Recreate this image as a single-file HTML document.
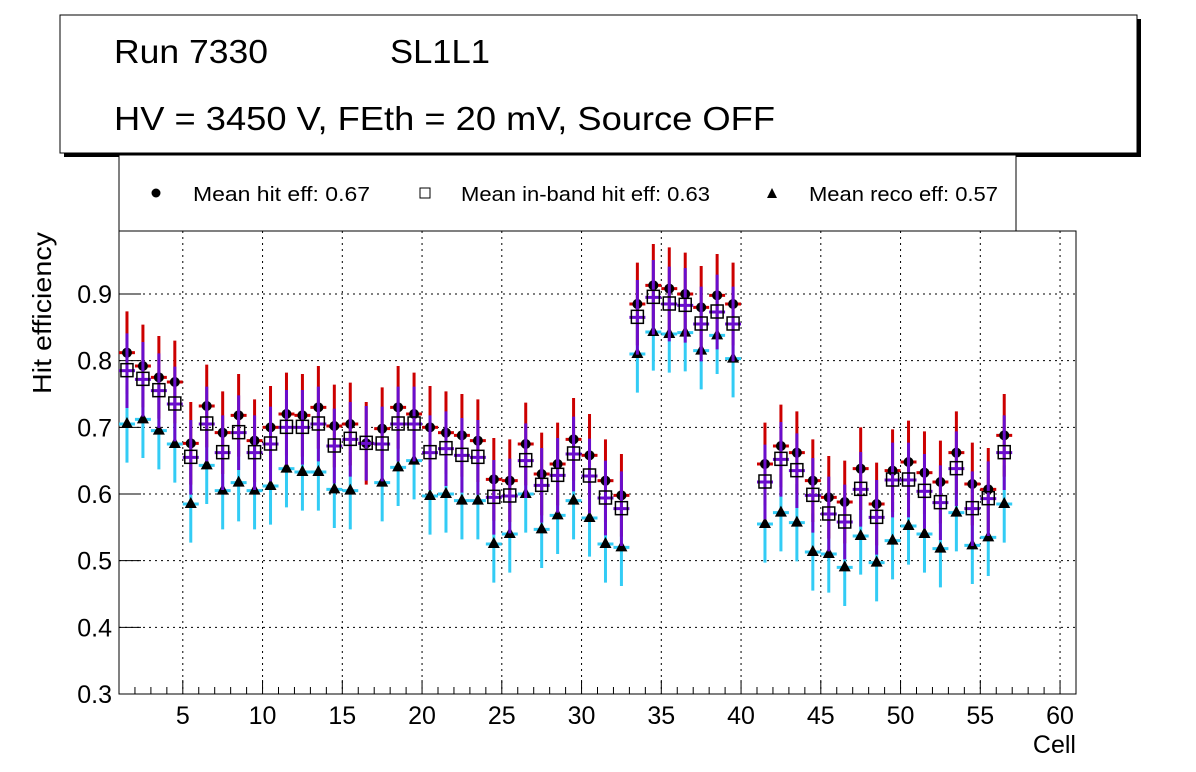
<!DOCTYPE html>
<html><head><meta charset="utf-8"><style>
body{margin:0;background:#fff;font-family:"Liberation Sans",sans-serif}
svg{display:block}
</style></head><body>
<svg id="c" width="1196" height="772" xmlns="http://www.w3.org/2000/svg" font-family="Liberation Sans, sans-serif">
<g>
<rect x="64" y="19" width="1077" height="138" fill="#000"/>
<rect x="60" y="15" width="1077" height="138" fill="#fff" stroke="#000" stroke-width="1"/>
<text x="114" y="63" font-size="33" textLength="154" lengthAdjust="spacingAndGlyphs">Run 7330</text>
<text x="390" y="63" font-size="33" textLength="100" lengthAdjust="spacingAndGlyphs">SL1L1</text>
<text x="114" y="130" font-size="33" textLength="661" lengthAdjust="spacingAndGlyphs">HV = 3450 V, FEth = 20 mV, Source OFF</text>
</g>
<g>
<rect x="119" y="155" width="897" height="76" fill="#fff" stroke="#000"/>
<g><circle cx="156" cy="193" r="4.5" fill="#000"/><text x="193" y="201" font-size="20" textLength="177" lengthAdjust="spacingAndGlyphs">Mean hit  eff: 0.67</text></g>
<g><rect x="420" y="188" width="10" height="10" fill="#fff" stroke="#000"/><text x="461" y="201" font-size="20" textLength="249" lengthAdjust="spacingAndGlyphs">Mean in-band hit eff: 0.63</text></g>
<g><polygon points="772,188 777,198 767,198" fill="#000"/><text x="809" y="201" font-size="20" textLength="189" lengthAdjust="spacingAndGlyphs">Mean reco eff: 0.57</text></g>
</g>
<g id="plot"></g>
</svg>
<script>
const cells=[];for(let i=1;i<=56;i++)cells.push(i);
const hitEff=[0.812,0.792,0.775,0.768,0.676,0.732,0.692,0.718,0.68,0.70,0.72,0.718,0.73,0.702,0.705,0.676,0.698,0.73,0.72,0.70,0.692,0.688,0.68,0.622,0.62,0.675,0.63,0.645,0.682,0.658,0.62,0.598,0.885,0.913,0.908,0.90,0.88,0.898,0.885,null,0.645,0.672,0.662,0.62,0.595,0.588,0.638,0.585,0.635,0.648,0.632,0.618,0.662,0.615,0.607,0.688];
const inbandEff=[0.785,0.772,0.755,0.735,0.655,0.705,0.662,0.692,0.662,0.675,0.70,0.70,0.705,0.672,0.682,0.676,0.675,0.705,0.705,0.662,0.668,0.658,0.655,0.595,0.597,0.65,0.613,0.628,0.66,0.627,0.594,0.578,0.865,0.895,0.885,0.883,0.855,0.873,0.855,null,0.618,0.652,0.635,0.598,0.57,0.558,0.607,0.565,0.621,0.621,0.604,0.587,0.638,0.578,0.593,0.662];
const recoEff=[0.705,0.712,0.695,0.675,0.585,0.643,0.605,0.617,0.605,0.612,0.638,0.633,0.633,0.607,0.605,null,0.617,0.64,0.65,0.597,0.60,0.59,0.59,0.525,0.54,0.60,0.547,0.568,0.59,0.564,0.525,0.52,0.81,0.843,0.84,0.842,0.815,0.838,0.803,null,0.555,0.572,0.557,0.513,0.51,0.49,0.537,0.497,0.53,0.552,0.54,0.518,0.572,0.523,0.535,0.585];
const hitErr=0.062, inbandErr=0.056, recoErr=0.058;
const yTicks=[0.3,0.4,0.5,0.6,0.7,0.8,0.9];
const xTicks=[5,10,15,20,25,30,35,40,45,50,55,60];
const X0=119,X1=1076,Y0=694,Y1=231,xmin=1,xmax=61,ymin=0.3,ymax=0.9945;
const sx=v=>X0+(v-xmin)/(xmax-xmin)*(X1-X0);
const sy=v=>Y0-(v-ymin)/(ymax-ymin)*(Y0-Y1);
const NS='http://www.w3.org/2000/svg';
const plot=document.getElementById('plot');
function mk(tag,attrs,parent){const e=document.createElementNS(NS,tag);for(const k in attrs)e.setAttribute(k,attrs[k]);(parent||plot).appendChild(e);return e;}
const grid=mk('g',{});


xTicks.forEach(t=>{mk('line',{x1:sx(t),x2:sx(t),y1:Y1,y2:Y0,stroke:'#000','stroke-dasharray':'2,4'},grid);});
yTicks.forEach(t=>{mk('line',{x1:X0,x2:X1,y1:sy(t),y2:sy(t),stroke:'#000','stroke-dasharray':'2,4'},grid);});
const frame=mk('rect',{x:X0,y:Y1,width:X1-X0,height:Y0-Y1,fill:'none',stroke:'#000'});


const ax=mk('g',{});


for(let v=2;v<=60;v++){const major=v%5===0;mk('line',{x1:sx(v),x2:sx(v),y1:Y0,y2:Y0-(major?14:7),stroke:'#000'},ax);}
yTicks.forEach(t=>{mk('line',{x1:X0,x2:X0+22,y1:sy(t),y2:sy(t),stroke:'#000'},ax);
const tx=mk('text',{x:112,y:sy(t)+9,'font-size':25,'text-anchor':'end'},ax);tx.textContent=t.toFixed(1);

});
xTicks.forEach(t=>{const tx=mk('text',{x:sx(t),y:724,'font-size':25,'text-anchor':'middle'},ax);tx.textContent=t;

});
const xt=mk('text',{x:1076,y:753,'font-size':25,'text-anchor':'end'},ax);xt.textContent='Cell';


const yt=mk('text',{x:0,y:0,'font-size':26,'text-anchor':'end',textLength:162,lengthAdjust:'spacingAndGlyphs',transform:'translate(51,232) rotate(-90)'},ax);yt.textContent='Hit efficiency';


function series(vals,err,color,marker,name){
const g=mk('g',{});


vals.forEach((v,i)=>{if(v==null)return;const x=sx(cells[i]+0.5),y=sy(v);
mk('line',{x1:x,x2:x,y1:sy(v+err),y2:sy(v-err),stroke:color,'stroke-width':3},g);
mk('line',{x1:sx(cells[i]),x2:sx(cells[i]+1),y1:y,y2:y,stroke:color,'stroke-width':3},g);
let m;
if(marker==='c')m=mk('circle',{cx:x,cy:y,r:5,fill:'#000'},g);
else if(marker==='s')m=mk('rect',{x:x-6,y:y-7,width:12,height:13,fill:'none',stroke:'#000','stroke-width':1.5},g);
else m=mk('polygon',{points:`${x},${y-7} ${x+6},${y+4} ${x-6},${y+4}`,fill:'#000'},g);


});}
series(recoEff,recoErr,'#33ccf5','t','reco-eff-series');
series(hitEff,hitErr,'#cc0000','c','hit-eff-series');
series(inbandEff,inbandErr,'#6a0dcc','s','inband-eff-series');
</script>
</body></html>
